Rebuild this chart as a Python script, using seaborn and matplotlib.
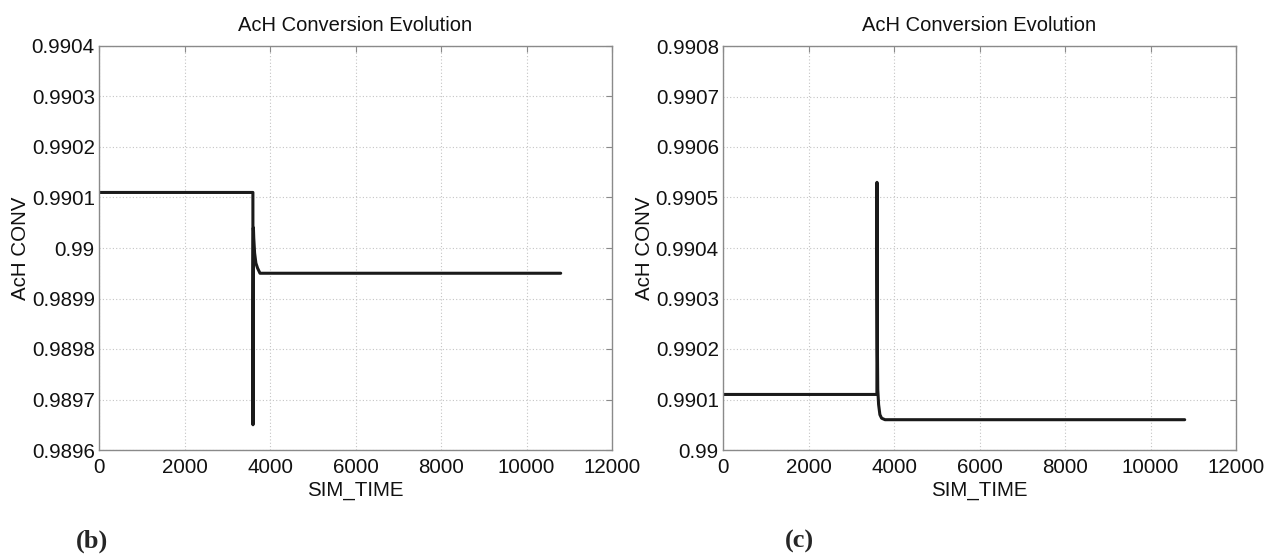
import numpy as np
import pandas as pd
import seaborn as sns
import matplotlib
matplotlib.use("Agg")
import matplotlib.pyplot as plt
from matplotlib.ticker import FuncFormatter, MultipleLocator

# ---- data ----
time_b = [0, 3600, 3602, 3606, 3612, 3620, 3640, 3670, 3710, 3766, 10800]
conv_b = [0.99011, 0.99011, 0.98965, 0.98990, 0.99004, 0.99002, 0.98999, 0.98997, 0.98996, 0.98995, 0.98995]

time_c = [0, 3600, 3602, 3606, 3612, 3620, 3640, 3670, 3710, 3790, 10800]
conv_c = [0.99011, 0.99011, 0.99053, 0.99034, 0.99020, 0.99012, 0.99009, 0.99007, 0.990063, 0.99006, 0.99006]

xticks = [0, 2000, 4000, 6000, 8000, 10000, 12000]
ylim_b = (0.9896, 0.9904)
ylim_c = (0.9900, 0.9908)
title = "AcH Conversion Evolution"
xlabel = "SIM_TIME"
ylabel = "AcH CONV"
panel_labels = ["(b)", "(c)"]

sns.set_style("white")
plt.rcParams["font.family"] = ["Liberation Sans", "DejaVu Sans"]

fig = plt.figure(figsize=(12.68, 5.57), dpi=100)
W, H = 1268, 557
ax_b = fig.add_axes([99 / W, (H - 450) / H, 513 / W, 404 / H])
ax_c = fig.add_axes([723 / W, (H - 450) / H, 513 / W, 404 / H])

df_b = pd.DataFrame({"t": time_b, "v": conv_b})
df_c = pd.DataFrame({"t": time_c, "v": conv_c})

for ax, df, ylim in [(ax_b, df_b, ylim_b), (ax_c, df_c, ylim_c)]:
    sns.lineplot(data=df, x="t", y="v", ax=ax, color="#1a1a1a", linewidth=2.2,
                 estimator=None, sort=False)
    ax.set_xlim(0, 12000)
    ax.set_ylim(*ylim)
    ax.set_xticks(xticks)
    ax.yaxis.set_major_locator(MultipleLocator(0.0001))
    ax.yaxis.set_major_formatter(FuncFormatter(lambda v, p: "%g" % round(v, 6)))
    ax.grid(True, linestyle=(0, (1, 2)), color="#c4c4c4", linewidth=0.8)
    for s in ax.spines.values():
        s.set_color("#8a8a8a")
        s.set_linewidth(1.0)
    ax.tick_params(direction="in", length=4, width=0.8, color="#8a8a8a",
                   top=True, right=True, labelsize=14.8, labelcolor="#111111")
    ax.tick_params(axis="y", pad=3)
    ax.tick_params(axis="x", pad=6)
    ax.set_title(title, fontsize=14.5, color="#111111", pad=11)
    ax.set_xlabel(xlabel, fontsize=14.8, color="#111111", labelpad=3)
    ax.set_ylabel(ylabel, fontsize=14.8, color="#111111", labelpad=1)

fig.text(92 / W, 1 - 541 / H, panel_labels[0], fontsize=19, fontweight="bold",
         family="Liberation Serif", ha="center", va="center")
fig.text(799 / W, 1 - 541 / H, panel_labels[1], fontsize=19, fontweight="bold",
         family="Liberation Serif", ha="center", va="center")

fig.savefig("out.png", dpi=100, facecolor="white")
